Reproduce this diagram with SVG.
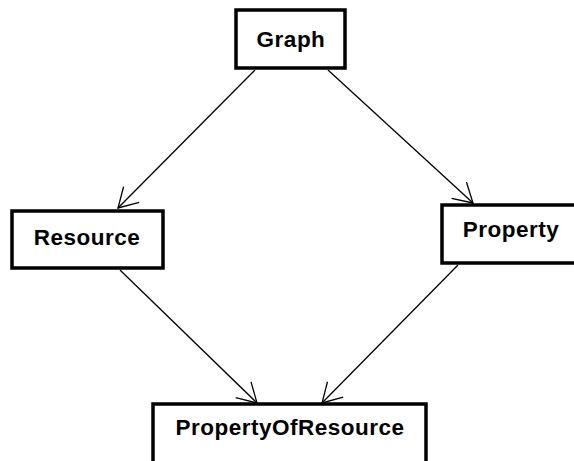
<svg xmlns="http://www.w3.org/2000/svg" width="574" height="461" viewBox="0 0 574 461">
<style>
.box{fill:#fff;stroke:#000;stroke-width:3.5}
.lbl{font-family:"Liberation Sans",Arial,sans-serif;font-weight:bold;font-size:22.5px;letter-spacing:0.5px;text-anchor:middle;fill:#000}
.edge{stroke:#000;stroke-width:1.3;fill:none}
</style>
<defs>
<marker id="arr" markerUnits="userSpaceOnUse" markerWidth="30" markerHeight="30" viewBox="-25 -15 30 30" refX="0" refY="0" orient="auto" overflow="visible">
<path d="M -19 -11 L 0 0 L -19 11" fill="none" stroke="#000" stroke-width="1.3"/>
</marker>
</defs>
<g id="connectors">
<line class="edge" x1="255" y1="70" x2="118" y2="208" marker-end="url(#arr)"/>
<line class="edge" x1="328" y1="70" x2="473" y2="203" marker-end="url(#arr)"/>
<line class="edge" x1="120" y1="270" x2="257" y2="403" marker-end="url(#arr)"/>
<line class="edge" x1="458" y1="265" x2="322" y2="403" marker-end="url(#arr)"/>
</g>
<g id="Graph">
<rect class="box" x="236" y="10" width="109" height="58"/>
<text class="lbl" x="291" y="47">Graph</text>
</g>
<g id="Resource">
<rect class="box" x="12" y="211" width="151" height="57"/>
<text class="lbl" x="87" y="245">Resource</text>
</g>
<g id="Property">
<rect class="box" x="442" y="205" width="140" height="58"/>
<text class="lbl" x="511" y="237">Property</text>
</g>
<g id="PropertyOfResource">
<rect class="box" x="153" y="404" width="273" height="70"/>
<text class="lbl" x="290" y="435">PropertyOfResource</text>
</g>
</svg>
